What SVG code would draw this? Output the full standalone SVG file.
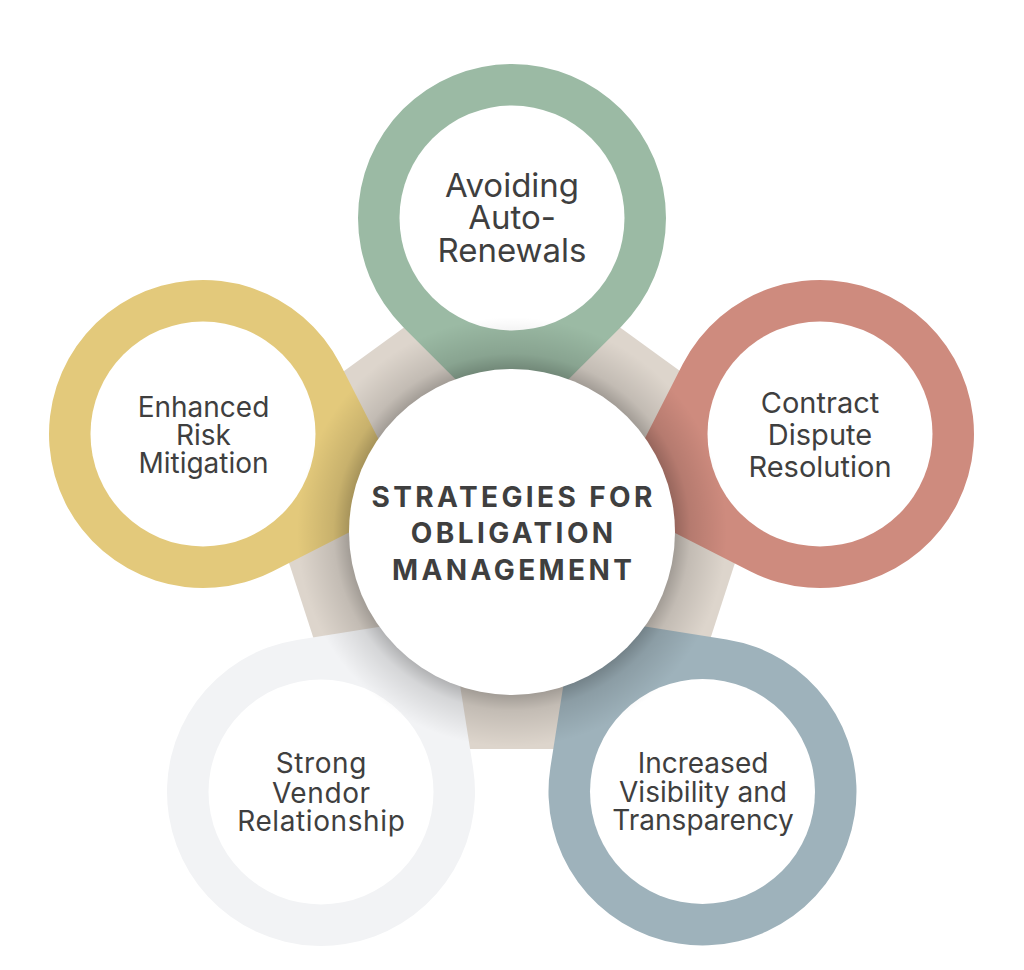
<svg xmlns="http://www.w3.org/2000/svg" width="1024" height="970" viewBox="0 0 1024 970">
  <defs>
    <style>
      .lbl { font-family: Inter, "Liberation Sans", sans-serif; fill: #3f3f3f; text-anchor: middle; }
      .title { font-family: Inter, "Liberation Sans", sans-serif; font-weight: 700; fill: #3f3f3f; text-anchor: middle; font-size: 28px; letter-spacing: 3.4px; }
      .hole { fill: #ffffff; }
    </style>
    <path id="drop" d="M217.8,0 L108.9,108.9 A154,154 0 1 1 108.9,-108.9 Z"/>
    <radialGradient id="shade" cx="512" cy="532" r="215" gradientUnits="userSpaceOnUse">
      <stop offset="0.75" stop-color="#000" stop-opacity="0.28"/>
      <stop offset="0.83" stop-color="#000" stop-opacity="0.12"/>
      <stop offset="1" stop-color="#000" stop-opacity="0"/>
    </radialGradient>
  </defs>
  <rect width="1024" height="970" fill="#ffffff"/>

  <g id="pentagon">
    <polygon points="512,249 774.9,440 674.5,749 349.5,749 249.1,440" fill="#ddd5cc"/>
  </g>

  <g id="pin-avoiding" transform="translate(512,218)">
    <use href="#drop" transform="rotate(90)" fill="#9bbaa4"/>
    <circle class="hole" r="112.5"/>
  </g>
  <g id="pin-risk" transform="translate(203,434)">
    <use href="#drop" transform="rotate(18)" fill="#e3c97b"/>
    <circle class="hole" r="112.5"/>
  </g>
  <g id="pin-dispute" transform="translate(820,434)">
    <use href="#drop" transform="rotate(162)" fill="#ce8b7e"/>
    <circle class="hole" r="112.5"/>
  </g>
  <g id="pin-vendor" transform="translate(321,792)">
    <use href="#drop" transform="rotate(-54)" fill="#f2f3f5"/>
    <circle class="hole" r="112.5"/>
  </g>
  <g id="pin-visibility" transform="translate(702.5,791.5)">
    <use href="#drop" transform="rotate(-126)" fill="#9eb2bb"/>
    <circle class="hole" r="112.5"/>
  </g>

  <g id="connectors"></g>

  <circle cx="512" cy="532" r="215" fill="url(#shade)"/>

  <g id="center">
    <circle cx="512" cy="532" r="163" fill="#ffffff"/>
    <text class="title"><tspan x="513.7" y="507">STRATEGIES FOR</tspan><tspan x="513.7" y="543">OBLIGATION</tspan><tspan x="513.7" y="580">MANAGEMENT</tspan></text>
  </g>

  <g id="label-avoiding">
    <text class="lbl" font-size="33"><tspan x="512" y="197">Avoiding</tspan><tspan x="512" y="229">Auto-</tspan><tspan x="512" y="262">Renewals</tspan></text>
  </g>
  <g id="label-risk">
    <text class="lbl" font-size="28"><tspan x="203.5" y="417">Enhanced</tspan><tspan x="203.5" y="445">Risk</tspan><tspan x="203.5" y="473">Mitigation</tspan></text>
  </g>
  <g id="label-dispute">
    <text class="lbl" font-size="29"><tspan x="820" y="413">Contract</tspan><tspan x="820" y="445">Dispute</tspan><tspan x="820" y="477">Resolution</tspan></text>
  </g>
  <g id="label-vendor">
    <text class="lbl" font-size="28" letter-spacing="0.6"><tspan x="321.3" y="773">Strong</tspan><tspan x="321.3" y="803">Vendor</tspan><tspan x="321.3" y="831">Relationship</tspan></text>
  </g>
  <g id="label-visibility">
    <text class="lbl" font-size="28"><tspan x="703" y="773">Increased</tspan><tspan x="703" y="802">Visibility and</tspan><tspan x="703" y="830">Transparency</tspan></text>
  </g>
</svg>
